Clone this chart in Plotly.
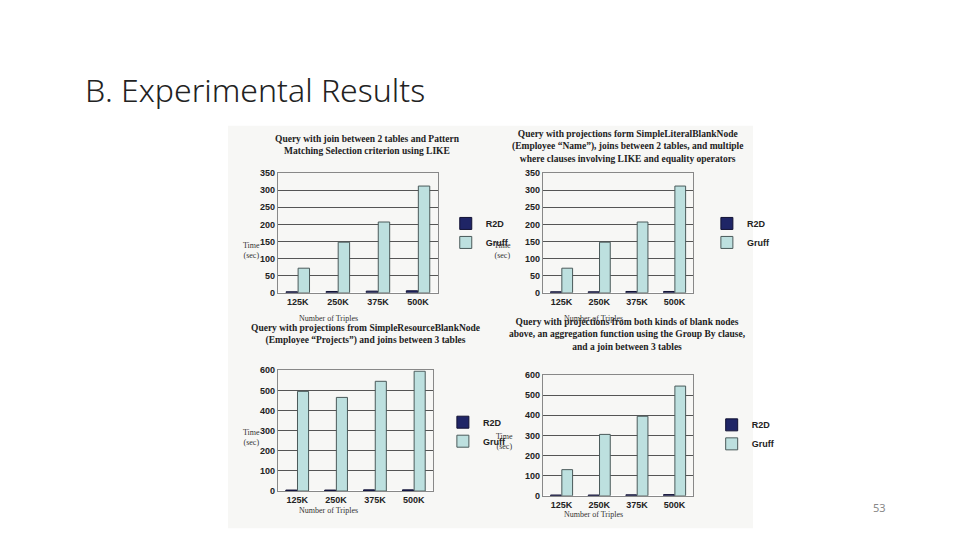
import plotly.graph_objects as go

triples = ["125K", "250K", "375K", "500K"]

titles = [
    "Query with join between 2 tables and Pattern<br>Matching Selection criterion using LIKE",
    "Query with projections form SimpleLiteralBlankNode<br>(Employee “Name”), joins between 2 tables, and multiple<br>where clauses involving LIKE and equality operators",
    "Query with projections from SimpleResourceBlankNode<br>(Employee “Projects”) and joins between 3 tables",
    "Query with projections from both kinds of blank nodes<br>above, an aggregation function using the Group By clause,<br>and a join between 3 tables",
]
r2d_q1 = [3, 4, 5, 6]
gruff_q1 = [72, 148, 207, 312]
r2d_q2 = [3, 3, 4, 4]
gruff_q2 = [72, 148, 207, 312]
r2d_q3 = [5, 5, 6, 6]
gruff_q3 = [495, 465, 545, 595]
r2d_q4 = [4, 4, 5, 6]
gruff_q4 = [130, 305, 395, 545]

series = [(r2d_q1, gruff_q1), (r2d_q2, gruff_q2), (r2d_q3, gruff_q3), (r2d_q4, gruff_q4)]
yranges = [(350, 50), (350, 50), (600, 100), (600, 100)]

# panel layout (paper coords) for a 960x540 page
xdoms = [(0.281, 0.448), (0.557, 0.714), (0.281, 0.443), (0.557, 0.714)]
ydoms = [(0.472, 0.698), (0.472, 0.698), (0.098, 0.326), (0.089, 0.317)]
title_y = [0.775, 0.785, 0.393, 0.393]
legend_pos = [(0.456, 0.585), (0.728, 0.585), (0.453, 0.21), (0.733, 0.205)]
time_x = [0.243, 0.515, 0.243, 0.517]

fig = go.Figure()
ann = []
serif = "Liberation Serif"
tickf = dict(family="Liberation Sans", size=9, color="#222", weight="bold")

for i, (r2d, gruff) in enumerate(series):
    n = "" if i == 0 else str(i + 1)
    leg = "legend" + n
    fig.add_trace(go.Bar(x=triples, y=r2d, name="R2D", marker_color="#1f2566",
                         marker_line=dict(color="#111133", width=1),
                         xaxis="x" + n, yaxis="y" + n, legend=leg))
    fig.add_trace(go.Bar(x=triples, y=gruff, name="Gruff", marker_color="#bde0df",
                         marker_line=dict(color="#4a5a5a", width=1),
                         xaxis="x" + n, yaxis="y" + n, legend=leg))
    top, step = yranges[i]
    fig.update_layout(**{
        "xaxis" + n: dict(domain=xdoms[i], anchor="y" + n, showgrid=False, tickfont=tickf,
                          linecolor="#888", showline=True, mirror=True),
        "yaxis" + n: dict(domain=ydoms[i], anchor="x" + n, range=[0, top], dtick=step,
                          gridcolor="#555", showline=True, linecolor="#888", mirror=True,
                          tickfont=tickf),
        leg: dict(x=legend_pos[i][0], y=legend_pos[i][1], xanchor="left", yanchor="middle",
                  bgcolor="rgba(0,0,0,0)", itemwidth=30, tracegroupgap=0,
                  font=dict(family="Liberation Sans", size=9, color="#222", weight="bold")),
    })
    xc = (xdoms[i][0] + xdoms[i][1]) / 2
    ann.append(dict(text="<b>" + titles[i] + "</b>", x=xc + 0.01, y=title_y[i], xref="paper", yref="paper",
                    showarrow=False, font=dict(family=serif, size=9.5, color="#222")))
    ann.append(dict(text="Time<br>(sec)", x=time_x[i], y=ydoms[i][0] + 0.08,
                    xref="paper", yref="paper", showarrow=False,
                    font=dict(family=serif, size=8, color="#333")))
    ann.append(dict(text="Number of Triples", x=xdoms[i][0] + 0.02, y=ydoms[i][0] - 0.048,
                    xref="paper", yref="paper", showarrow=False, xanchor="left",
                    font=dict(family=serif, size=8, color="#333")))

ann.append(dict(text="B. Experimental Results", x=75 / 960, y=1 - 78 / 540, xref="paper", yref="paper",
                xanchor="left", yanchor="middle", showarrow=False,
                font=dict(family="Noto Sans", size=32, color="#222", weight=300)))
ann.append(dict(text="53", x=880 / 960, y=1 - 514 / 540, xref="paper", yref="paper",
                showarrow=False, font=dict(family="Noto Sans", size=11, color="#888")))

fig.update_layout(
    width=960, height=540, margin=dict(l=0, r=0, t=0, b=0),
    paper_bgcolor="white", plot_bgcolor="white",
    barmode="group", bargap=0.4, bargroupgap=0.05,
    annotations=ann,
    shapes=[dict(type="rect", xref="paper", yref="paper", x0=220 / 960, x1=745 / 960,
                 y0=1 - 525 / 540, y1=1 - 115 / 540, fillcolor="#f7f7f5", line_width=0, layer="below")],
)

fig.write_html("out.html")
